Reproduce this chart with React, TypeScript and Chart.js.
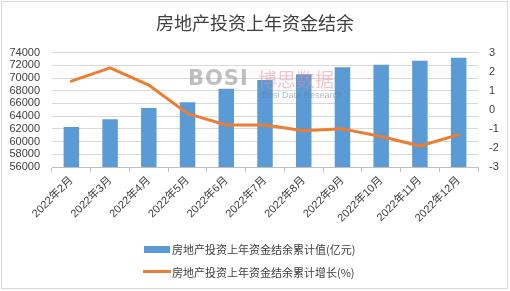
import React, { useEffect, useRef } from 'react';
import { Chart, registerables } from 'chart.js';

Chart.register(...registerables);

const categories = [
  '2022年2月', '2022年3月', '2022年4月', '2022年5月', '2022年6月', '2022年7月',
  '2022年8月', '2022年9月', '2022年10月', '2022年11月', '2022年12月',
];
const balanceValues = [62300, 63500, 65300, 66200, 68300, 69700, 70600, 71700, 72100, 72700, 73200];
const growthValues = [1.5, 2.2, 1.3, -0.2, -0.8, -0.8, -1.1, -1.0, -1.4, -1.9, -1.3];
const leftAxis = { min: 56000, max: 74000, step: 2000 };
const rightAxis = { min: -3, max: 3, step: 1 };
const titleText = '房地产投资上年资金结余';
const barLabel = '房地产投资上年资金结余累计值(亿元)';
const lineLabel = '房地产投资上年资金结余累计增长(%)';

const BAR_COLOR = '#5B9BD5';
const LINE_COLOR = '#ED7D31';
const TEXT_COLOR = '#404040';
const FONT = '"Liberation Sans", "Noto Sans CJK SC", sans-serif';

export default function App() {
  const canvasRef = useRef<HTMLCanvasElement | null>(null);

  useEffect(() => {
    if (!canvasRef.current) return;
    const chart = new Chart(canvasRef.current, {
      type: 'bar',
      data: {
        labels: categories,
        datasets: [
          {
            type: 'line',
            label: lineLabel,
            data: growthValues,
            yAxisID: 'y1',
            borderColor: LINE_COLOR,
            backgroundColor: LINE_COLOR,
            borderWidth: 3,
            pointRadius: 0,
            tension: 0,
            borderJoinStyle: 'round',
            borderCapStyle: 'round',
            order: 0,
          } as any,
          {
            type: 'bar',
            label: barLabel,
            data: balanceValues,
            yAxisID: 'y',
            backgroundColor: BAR_COLOR,
            barPercentage: 0.4,
            categoryPercentage: 1.0,
            order: 1,
          },
        ],
      },
      options: {
        responsive: false,
        animation: false,
        devicePixelRatio: 1,
        layout: { padding: { top: 0, bottom: 60, left: 0, right: 0 } },
        plugins: {
          legend: { display: false },
          tooltip: { enabled: false },
          title: {
            display: true,
            text: titleText,
            color: TEXT_COLOR,
            font: { family: '"Noto Sans CJK SC", sans-serif', size: 18, weight: 'normal' },
            padding: { top: 12, bottom: 19 },
          },
        },
        scales: {
          x: {
            grid: {
              display: true,
              drawOnChartArea: false,
              drawTicks: true,
              tickLength: 5,
              color: '#bfbfbf',
              offset: true,
            },
            border: { color: '#bfbfbf' },
            ticks: {
              autoSkip: false,
              maxRotation: 45,
              minRotation: 45,
              padding: 2,
              color: TEXT_COLOR,
              font: { family: FONT, size: 11 },
            },
            afterFit: (s: any) => { s.height = 64; },
          },
          y: {
            position: 'left',
            min: leftAxis.min,
            max: leftAxis.max,
            ticks: {
              stepSize: leftAxis.step,
              autoSkip: false,
              padding: 12,
              color: TEXT_COLOR,
              font: { family: FONT, size: 11 },
              callback: (v: any) => String(v),
            },
            grid: { color: '#d9d9d9', drawTicks: false },
            border: { display: false },
            afterFit: (s: any) => { s.width = 52; },
          },
          y1: {
            position: 'right',
            min: rightAxis.min,
            max: rightAxis.max,
            ticks: {
              stepSize: rightAxis.step,
              autoSkip: false,
              padding: 11,
              color: TEXT_COLOR,
              font: { family: FONT, size: 11 },
              callback: (v: any) => String(v),
            },
            grid: { display: false, drawTicks: false },
            border: { display: false },
            afterFit: (s: any) => { s.width = 32; },
          },
        },
      },
    });
    return () => chart.destroy();
  }, []);

  const legendText: React.CSSProperties = {
    position: 'absolute',
    left: 172,
    fontFamily: '"Noto Sans CJK SC", sans-serif',
    fontSize: 11,
    color: TEXT_COLOR,
    lineHeight: '14px',
    whiteSpace: 'nowrap',
  };

  return (
    <div style={{ position: 'absolute', left: 0, top: 0, width: 510, height: 291, background: '#fff' }}>
      <canvas ref={canvasRef} width={510} height={291} style={{ position: 'absolute', left: 0, top: 0 }} />
      <div style={{ position: 'absolute', left: 1, top: 1, width: 505, height: 286, border: '1px solid #d9d9d9', pointerEvents: 'none' }} />
      {/* watermark */}
      <div style={{ position: 'absolute', left: 188, top: 66, fontFamily: '"DejaVu Sans", sans-serif', fontWeight: 'bold', fontSize: 21, color: 'rgba(140,140,140,0.55)', letterSpacing: 1, pointerEvents: 'none' }}>BOSI</div>
      <div style={{ position: 'absolute', left: 258, top: 67, fontFamily: '"Noto Sans CJK SC", sans-serif', fontSize: 19, lineHeight: '24px', color: 'rgba(230,140,160,0.5)', pointerEvents: 'none' }}>博思数据</div>
      <div style={{ position: 'absolute', left: 262, top: 90, fontFamily: '"Liberation Sans", sans-serif', fontSize: 9, lineHeight: '10px', color: 'rgba(100,120,150,0.5)', pointerEvents: 'none' }}>Bosi Data Research</div>
      {/* legend */}
      <div style={{ position: 'absolute', left: 144, top: 246, width: 26, height: 7, background: BAR_COLOR }} />
      <div style={{ ...legendText, top: 242 }}>{barLabel}</div>
      <div style={{ position: 'absolute', left: 143, top: 270, width: 28, height: 3, background: LINE_COLOR }} />
      <div style={{ ...legendText, top: 264.5 }}>{lineLabel}</div>
    </div>
  );
}
